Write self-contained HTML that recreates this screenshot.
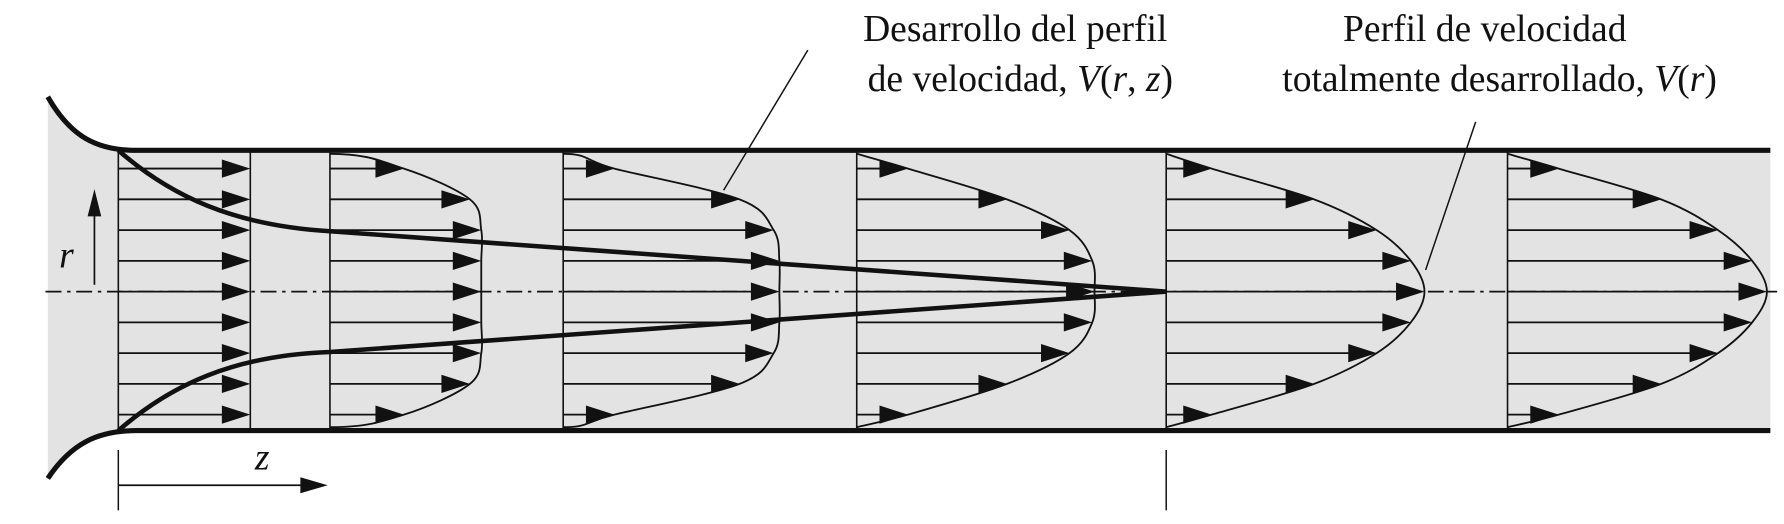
<!DOCTYPE html>
<html><head><meta charset="utf-8"><style>
html,body{margin:0;padding:0;background:#fff;}
svg{display:block;}
text{font-family:"Liberation Serif",serif;fill:#111;}
</style></head><body>
<svg id="fig" width="1784" height="524" viewBox="0 0 1568 460" preserveAspectRatio="none" xmlns="http://www.w3.org/2000/svg">
  <path d="M42,85 C62,120 85,132 120,132 L1556,132 L1556,378 L120,378 C85,378 62,390 42,420 Z" fill="#e3e3e3"/>
  <g id="marks"></g>
  <line x1="40" y1="256" x2="1562" y2="256" stroke="#111" stroke-width="1.5" stroke-dasharray="14,5,3,5"/>
  <path d="M42,85 C62,120 85,132 120,132 L1556,132" fill="none" stroke="#111" stroke-width="4.5"/>
  <path d="M42,420 C62,390 85,378 120,378 L1556,378" fill="none" stroke="#111" stroke-width="4.5"/>
  <path d="M104,132 C150,172 205,198 290,203 L1025,256" fill="none" stroke="#111" stroke-width="4"/>
  <path d="M104,378 C150,338 205,312 290,309 L1025,256" fill="none" stroke="#111" stroke-width="4"/>
  <line x1="710" y1="44" x2="636" y2="167" stroke="#111" stroke-width="1.3"/>
  <line x1="1297" y1="107" x2="1253" y2="237" stroke="#111" stroke-width="1.3"/>
  <text x="1026" y="36" font-size="33" text-anchor="end">Desarrollo del perfil</text>
  <text x="1031" y="80" font-size="33" text-anchor="end">de velocidad, <tspan font-style="italic">V</tspan>(<tspan font-style="italic">r</tspan>, <tspan font-style="italic">z</tspan>)</text>
  <text x="1305" y="36" font-size="33" text-anchor="middle">Perfil de velocidad</text>
  <text x="1318" y="80" font-size="33" text-anchor="middle">totalmente desarrollado, <tspan font-style="italic">V</tspan>(<tspan font-style="italic">r</tspan>)</text>
  <text x="52" y="235" font-size="33" font-style="italic">r</text>
  <line x1="83" y1="250" x2="83" y2="185" stroke="#111" stroke-width="1.5"/>
  <polygon points="83,166 77,190 89,190" fill="#111"/>
  <text x="224" y="412" font-size="33" font-style="italic">z</text>
  <line x1="104" y1="426" x2="265" y2="426" stroke="#111" stroke-width="1.5"/>
  <polygon points="288,426 264,419 264,433" fill="#111"/>
  <line x1="104" y1="395" x2="104" y2="448" stroke="#111" stroke-width="1.3"/>
  <line x1="1025" y1="395" x2="1025" y2="448" stroke="#111" stroke-width="1.3"/>
</svg>
<script>
// stations (axial positions) and arrow lengths per row (top to bottom half, symmetric)
const stationX = [104, 290, 495, 753, 1025, 1325];
const rowR = [108, 81, 54, 27, 0]; // radial position of each arrow row (px from axis)
const len0 = [116, 116, 116, 116, 116];
const len1 = [65, 123, 133, 133, 133];
const len2 = [45, 155, 185, 190, 190];
const len3 = [45, 132, 187, 207, 209];
const len4 = [40, 130, 185, 215, 227];
const len5 = [45, 135, 185, 215, 228];
const lengths = [len0, len1, len2, len3, len4, len5];

const NS = 'http://www.w3.org/2000/svg';
const g = document.getElementById('marks');
const yAxis = r => 256 - r;
function mk(tag, attrs){ const e=document.createElementNS(NS,tag); for(const k in attrs) e.setAttribute(k,attrs[k]); g.appendChild(e); return e; }

stationX.forEach((sx, si) => {
  const L = lengths[si];
  const st = mk('line',{x1:sx,y1:132,x2:sx,y2:378,stroke:'#111','stroke-width':1.4});
  
  
  const rows = [];
  rowR.forEach((r,i)=>rows.push({r:r,l:L[i]}));
  for(let i=rowR.length-2;i>=0;i--) rows.push({r:-rowR[i],l:L[i]});
  const tips = [];
  rows.forEach((row) => {
    const y = yAxis(row.r), xe = sx + row.l;
    tips.push([xe, y]);
    const ln = mk('line',{x1:sx,y1:y,x2:xe-20,y2:y,stroke:'#111','stroke-width':1.6});
    
    
    const hd = mk('polygon',{points:`${xe},${y} ${xe-25},${y-8} ${xe-25},${y+8}`,fill:'#111'});
    
    
  });
  if (si === 0) {
    const end = mk('line',{x1:sx+116,y1:132,x2:sx+116,y2:378,stroke:'#111','stroke-width':1.4});
    
    
  } else {
    const pts = [[sx,135]].concat(tips).concat([[sx,375]]);
    const flatWall = si <= 2;
    let d = `M${pts[0][0]},${pts[0][1]}`;
    const n = pts.length;
    for(let i=0;i<n-1;i++){
      const p0=pts[Math.max(0,i-1)],p1=pts[i],p2=pts[i+1],p3=pts[Math.min(n-1,i+2)];
      let c1=[p1[0]+(p2[0]-p0[0])/6,p1[1]+(p2[1]-p0[1])/6];
      let c2=[p2[0]-(p3[0]-p1[0])/6,p2[1]-(p3[1]-p1[1])/6];
      if (flatWall && i===0) c1=[p1[0]+(p2[0]-p1[0])*0.5,p1[1]];
      if (flatWall && i===n-2) c2=[p2[0]-(p2[0]-p1[0])*0.5,p2[1]];
      d+=` C${c1[0]},${c1[1]} ${c2[0]},${c2[1]} ${p2[0]},${p2[1]}`;
    }
    const pr = mk('path',{d:d,fill:'none',stroke:'#111','stroke-width':1.6});
    
    
  }
});
</script>
</body></html>
